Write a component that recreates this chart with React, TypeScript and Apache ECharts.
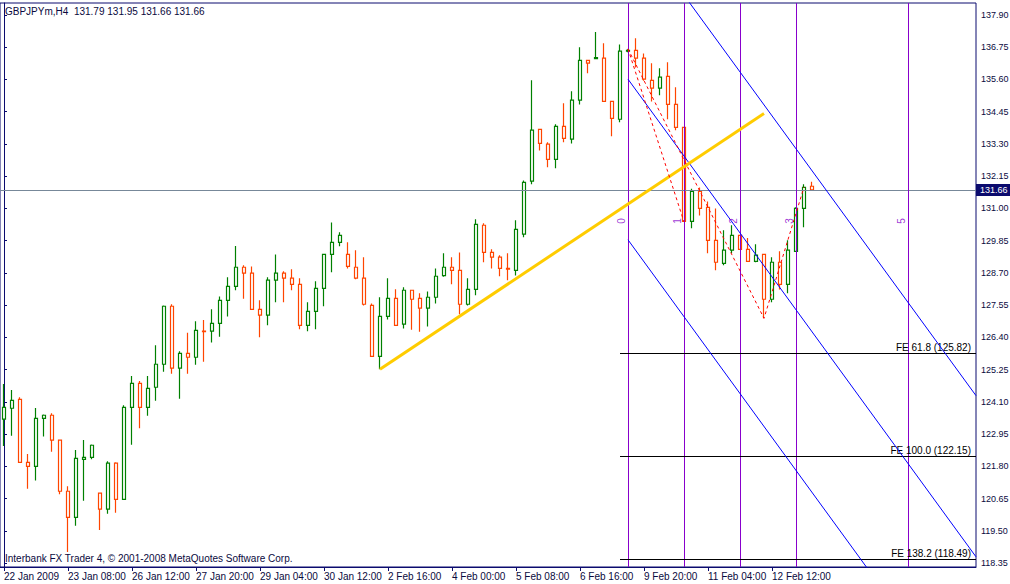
import { useEffect, useRef } from 'react';
import * as echarts from 'echarts';

const FONT = '"Liberation Sans", Arial, sans-serif';
const NAVY = '#0b0b6e';
const TEXT = '#0a0a40';
const BULL = '#008000';
const BEAR = '#ff4500';
const PURPLE = '#8800cc';

const chartTitle = 'GBPJPYm,H4  131.79 131.95 131.66 131.66';
const copyright = 'Interbank FX Trader 4, \u00a9 2001-2008 MetaQuotes Software Corp.';

// x-axis tick labels, one every 8 H4 bars
const timeLabels = [
  '22 Jan 2009', '23 Jan 08:00', '26 Jan 12:00', '27 Jan 20:00', '29 Jan 04:00',
  '30 Jan 12:00', '2 Feb 16:00', '4 Feb 00:00', '5 Feb 08:00', '6 Feb 16:00',
  '9 Feb 20:00', '11 Feb 04:00', '12 Feb 12:00',
];
const labelStep = 8;
const totalSlots = 122; // bars + empty future space on the right

// price axis tick labels
const priceTicks = [
  118.35, 119.5, 120.65, 121.8, 122.95, 124.1, 125.25, 126.4, 127.55,
  128.7, 129.85, 131.0, 132.15, 133.3, 134.45, 135.6, 136.75, 137.9,
];
const priceMin = 118.207;
const priceMax = 138.328;

// OHLC of H4 bars
const opens = [
  123.48, 123.87, 124.19, 121.94, 121.80, 123.51, 123.62, 122.73, 120.91, 119.98,
  122.05, 122.12, 120.84, 120.27, 121.91, 120.62, 123.90, 124.76, 123.90, 124.62,
  125.44, 127.51, 125.30, 125.83, 125.69, 126.62, 126.62, 126.90, 127.72, 128.22,
  128.90, 128.69, 127.40, 127.19, 128.44, 128.69, 128.51, 128.29, 126.83, 127.33,
  128.15, 129.36, 129.79, 129.36, 128.90, 128.51, 127.54, 125.72, 127.15, 127.79,
  126.87, 128.08, 127.79, 127.44, 127.83, 128.60, 128.90, 128.79, 127.58, 128.11,
  130.40, 129.43, 129.26, 128.86, 128.79, 130.08, 131.97, 133.82, 133.29, 132.75,
  133.93, 133.47, 134.86, 136.28, 136.34, 136.36, 134.82, 134.18, 136.61, 136.64,
  136.36, 135.57, 135.29, 135.71, 134.71, 133.89, 130.54, 131.61, 131.04, 129.86,
  129.04, 129.51, 130.04, 129.54, 129.11, 129.36, 127.76, 129.08, 128.29, 129.47,
  131.00, 131.79,
];
const highs = [
  124.74, 124.52, 124.26, 122.24, 123.88, 123.65, 123.69, 122.76, 121.09, 122.38,
  122.74, 122.58, 120.84, 121.98, 121.94, 123.98, 125.02, 124.84, 125.02, 126.12,
  127.54, 127.58, 125.90, 126.56, 126.97, 127.02, 127.40, 127.86, 128.54, 129.66,
  128.97, 128.93, 127.72, 128.54, 129.36, 128.76, 128.83, 128.51, 127.65, 128.40,
  129.38, 130.50, 130.15, 129.79, 129.51, 129.26, 127.61, 127.83, 128.51, 128.12,
  128.19, 128.10, 127.97, 128.04, 128.86, 129.40, 129.26, 129.43, 128.51, 130.61,
  130.47, 129.54, 129.33, 129.40, 130.58, 132.00, 135.57, 133.84, 133.36, 134.00,
  134.75, 135.18, 136.75, 136.30, 137.29, 136.89, 134.84, 136.85, 136.68, 137.07,
  136.53, 136.18, 136.00, 136.21, 135.32, 133.91, 131.70, 131.75, 131.25, 131.00,
  130.22, 130.40, 130.06, 129.94, 129.72, 129.38, 129.26, 129.47, 129.86, 131.04,
  131.86, 131.95,
];
const lows = [
  122.52, 122.89, 121.92, 121.00, 121.29, 122.86, 122.32, 120.80, 118.74, 119.68,
  120.57, 122.05, 119.53, 120.11, 120.14, 120.60, 122.57, 123.16, 123.60, 124.14,
  125.17, 125.10, 124.21, 125.10, 125.42, 125.53, 126.22, 126.42, 127.14, 128.08,
  127.78, 127.38, 126.40, 126.83, 127.65, 127.65, 128.08, 126.69, 126.62, 126.69,
  127.51, 128.72, 129.65, 128.86, 128.47, 127.54, 125.70, 125.26, 127.04, 126.81,
  126.72, 126.67, 126.60, 126.79, 127.61, 128.56, 128.29, 127.22, 127.54, 127.90,
  129.08, 128.86, 128.58, 128.44, 128.61, 129.97, 131.86, 133.07, 132.47, 132.43,
  133.36, 133.32, 134.71, 135.82, 136.32, 134.80, 133.57, 134.07, 136.57, 136.03,
  135.55, 134.81, 135.04, 134.18, 133.79, 130.52, 130.29, 130.75, 129.40, 128.79,
  128.97, 129.40, 129.52, 129.09, 129.08, 127.08, 127.65, 128.11, 127.97, 129.45,
  130.33, 131.66,
];
const closes = [
  123.90, 124.15, 121.94, 121.80, 123.51, 123.62, 122.73, 120.91, 119.98, 122.08,
  122.12, 122.55, 120.27, 121.91, 120.62, 123.90, 124.76, 123.90, 124.58, 125.44,
  127.51, 125.30, 125.83, 125.69, 126.65, 126.60, 126.90, 127.72, 128.22, 128.90,
  128.69, 127.40, 127.19, 128.44, 128.69, 128.51, 128.29, 126.83, 127.33, 128.15,
  129.36, 129.79, 130.04, 128.93, 128.51, 127.58, 125.72, 127.15, 127.79, 126.83,
  128.08, 127.76, 127.44, 127.83, 128.58, 128.90, 128.79, 127.58, 128.11, 130.43,
  129.43, 129.26, 128.86, 128.83, 130.25, 131.93, 133.79, 133.32, 132.75, 133.93,
  133.50, 134.86, 136.28, 136.18, 136.38, 134.82, 134.21, 136.61, 136.64, 136.36,
  135.61, 135.29, 135.68, 134.71, 133.89, 130.54, 131.61, 131.00, 129.86, 129.08,
  129.51, 130.04, 129.54, 129.11, 129.33, 127.76, 129.08, 128.29, 129.51, 131.00,
  131.75, 131.66,
];
const lastPrice = 131.66;

// drawn objects: [bar index, price]
const trendLine = [[47, 125.26], [95, 134.39]];
const channelUpper = [[78, 141.35], [121.5, 124.32]];
const channelMiddle = [[78, 135.61], [121.5, 118.57]];
const channelLower = [[78, 129.88], [121.5, 112.84]];
const fiboPath = [[78, 136.69], [95, 127.08], [100, 131.76]];
const swingLine = [[78, 136.69], [85, 130.52]];
const feStartBar = 77;
const feEndBar = 121.5;
const feRatios = ['61.8', '100.0', '138.2'];
const feLevels = [125.82, 122.15, 118.49];
const zoneBase = 78;
const zoneStep = 7;
const zoneNumbers = [0, 1, 2, 3, 5];
const zoneLabelPrice = 130.55;

export default function App() {
  const ref = useRef<HTMLDivElement>(null);

  useEffect(() => {
    if (!ref.current) return;
    const chart = echarts.init(ref.current, undefined, { renderer: 'svg' });

    const categories = Array.from({ length: totalSlots }, (_, i) => String(i));
    const showTick = (index: number) =>
      index % labelStep === 0 && index / labelStep < timeLabels.length;
    const candles = opens.map((o, i) => [o, closes[i], lows[i], highs[i]]);
    const zoneBars = zoneNumbers.map((n) => zoneBase + n * zoneStep);

    const overlay = (data: number[][], color: string, width: number, type: any = 'solid') => ({
      type: 'line',
      xAxisIndex: 1,
      yAxisIndex: 0,
      data,
      symbol: 'none',
      silent: true,
      clip: true,
      lineStyle: { color, width, type },
      z: 5,
    });

    chart.setOption({
      animation: false,
      backgroundColor: '#ffffff',
      textStyle: { fontFamily: FONT },
      title: [
        {
          text: chartTitle,
          left: 5,
          top: 6,
          padding: 0,
          textStyle: { fontSize: 10, fontWeight: 'normal', color: TEXT, fontFamily: FONT },
        },
        {
          text: copyright,
          left: 5,
          top: 553,
          padding: 0,
          textStyle: { fontSize: 10, fontWeight: 'normal', color: TEXT, fontFamily: FONT },
        },
      ],
      grid: {
        left: 0,
        right: 34,
        top: 3,
        bottom: 17,
        outerBoundsMode: 'none',
        containLabel: false,
        show: true,
        borderColor: NAVY,
        borderWidth: 1,
        backgroundColor: '#ffffff',
      },
      xAxis: [
        {
          type: 'category',
          data: categories,
          boundaryGap: true,
          axisLine: { show: true, lineStyle: { color: NAVY } },
          axisTick: {
            show: true,
            alignWithLabel: true,
            length: 4,
            interval: (index: number) => showTick(index),
            lineStyle: { color: NAVY },
          },
          axisLabel: {
            interval: (index: number) => showTick(index),
            formatter: (_v: string, index: number) =>
              index % labelStep === 0 ? timeLabels[index / labelStep] ?? '' : '',
            align: 'left',
            margin: 4,
            color: TEXT,
            fontSize: 10,
            fontFamily: FONT,
          },
          splitLine: { show: false },
        },
        {
          type: 'value',
          min: -0.5,
          max: totalSlots - 0.5,
          show: false,
        },
      ],
      yAxis: {
        type: 'value',
        position: 'right',
        min: priceMin,
        max: priceMax,
        axisLine: { show: true, lineStyle: { color: NAVY } },
        axisTick: { show: true, length: 3, customValues: priceTicks, lineStyle: { color: NAVY } },
        axisLabel: {
          customValues: priceTicks,
          formatter: (v: number) => v.toFixed(2),
          margin: 5,
          color: TEXT,
          fontSize: 9,
          fontFamily: FONT,
        },
        splitLine: { show: false },
      },
      series: [
        {
          type: 'candlestick',
          xAxisIndex: 0,
          yAxisIndex: 0,
          data: candles,
          barWidth: 4,
          silent: true,
          itemStyle: {
            color: '#ffffff',
            color0: '#ffffff',
            borderColor: BULL,
            borderColor0: BEAR,
            borderWidth: 1.2,
          },
          z: 2,
        },
        // current price line with its axis label
        {
          type: 'line',
          xAxisIndex: 1,
          yAxisIndex: 0,
          data: [],
          silent: true,
          z: 1,
          markLine: {
            silent: true,
            symbol: ['none', 'none'],
            lineStyle: { color: '#778899', width: 1, type: 'solid' },
            label: {
              show: true,
              position: 'end',
              distance: 0,
              formatter: lastPrice.toFixed(2),
              backgroundColor: NAVY,
              color: '#ffffff',
              padding: [2, 3, 1, 4],
              fontSize: 9,
              fontFamily: FONT,
            },
            data: [{ yAxis: lastPrice }],
          },
        },
        // Fibonacci time zones
        {
          type: 'line',
          xAxisIndex: 1,
          yAxisIndex: 0,
          data: [],
          silent: true,
          z: 4,
          markLine: {
            silent: true,
            symbol: ['none', 'none'],
            lineStyle: { color: PURPLE, width: 1, type: 'solid' },
            label: { show: false },
            data: zoneBars.map((b) => ({ xAxis: b })),
          },
        },
        {
          type: 'scatter',
          xAxisIndex: 1,
          yAxisIndex: 0,
          symbolSize: 1,
          silent: true,
          itemStyle: { color: 'rgba(0,0,0,0)' },
          data: zoneBars.map((b, i) => [b, zoneLabelPrice, zoneNumbers[i]]),
          label: {
            show: true,
            position: 'inside',
            rotate: 90,
            offset: [0, -7],
            formatter: (p: any) => String(p.data[2]),
            color: PURPLE,
            fontSize: 10,
            fontFamily: FONT,
          },
          z: 6,
        },
        // Fibonacci expansion levels
        {
          type: 'line',
          xAxisIndex: 1,
          yAxisIndex: 0,
          data: [],
          silent: true,
          z: 4,
          markLine: {
            silent: true,
            symbol: ['none', 'none'],
            lineStyle: { color: '#000000', width: 1, type: 'solid' },
            label: {
              show: true,
              position: 'insideEndTop',
              color: '#000000',
              fontSize: 10,
              fontFamily: FONT,
              distance: [5, 1],
            },
            data: feLevels.map((v, i) => [
              {
                coord: [feStartBar, v],
                label: { formatter: `FE ${feRatios[i]} (${v.toFixed(2)})` },
              },
              { coord: [feEndBar, v] },
            ]),
          },
        },
        overlay(channelUpper, '#0000ff', 1),
        overlay(channelMiddle, '#0000ff', 1),
        overlay(channelLower, '#0000ff', 1),
        overlay(trendLine, '#ffcc00', 3),
        overlay(swingLine, '#ff0000', 1, [3, 3]),
        overlay(fiboPath, '#ff0000', 1, [3, 3]),
      ],
    });

    return () => chart.dispose();
  }, []);

  return (
    <div
      ref={ref}
      style={{ position: 'fixed', left: 0, top: 0, width: 1010, height: 584, background: '#fff' }}
    />
  );
}
